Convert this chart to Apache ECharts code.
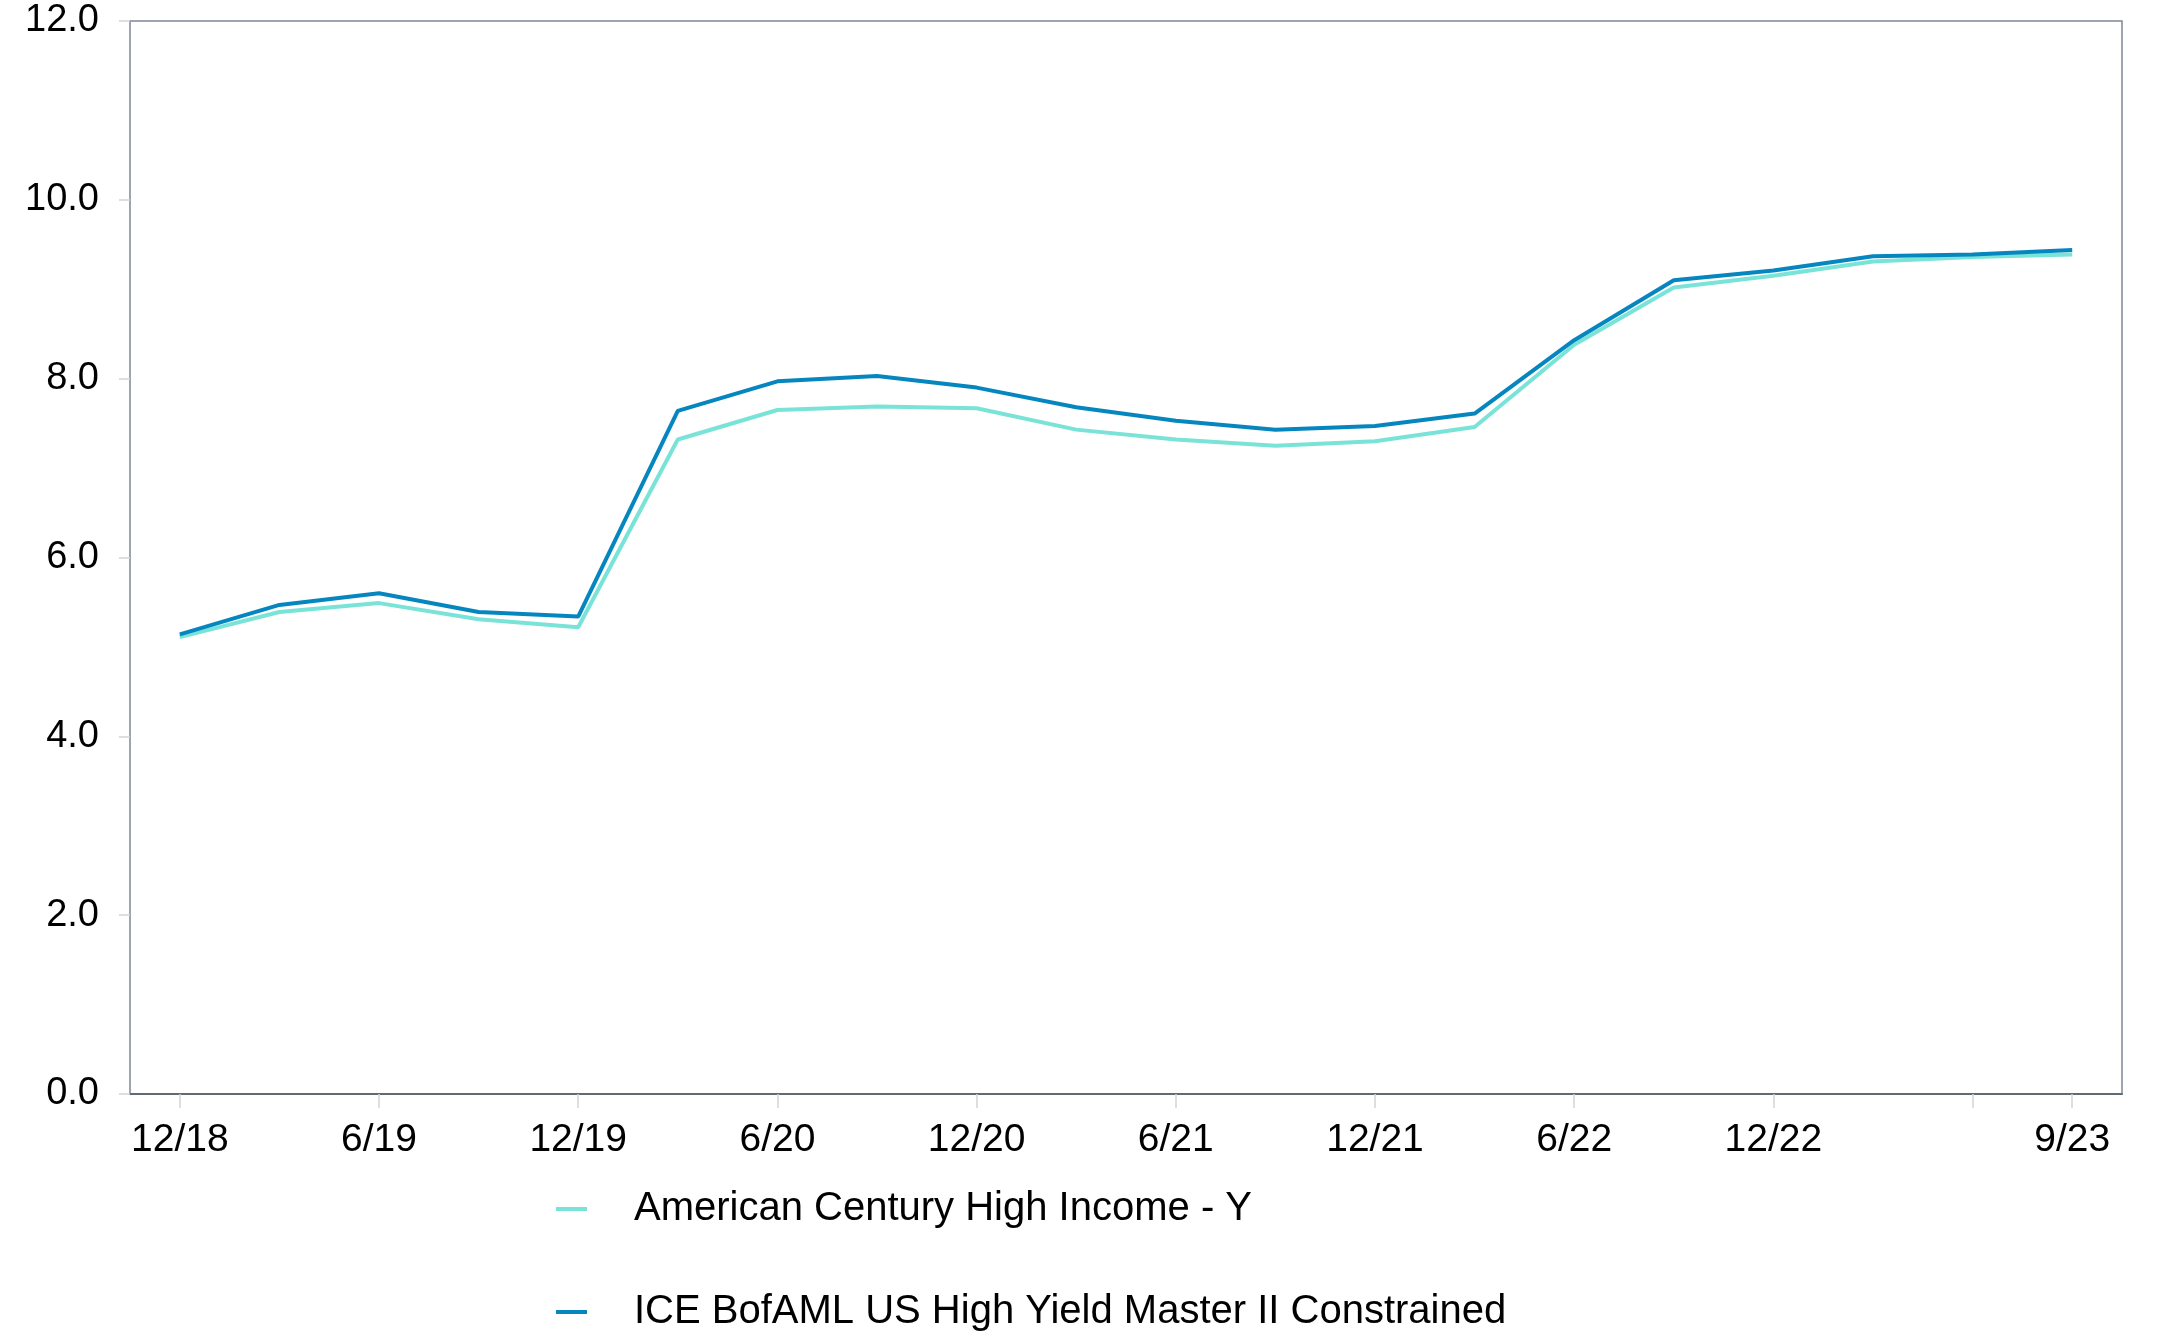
<!DOCTYPE html>
<html>
<head>
<meta charset="utf-8">
<script src="https://cdn.jsdelivr.net/npm/echarts@6/dist/echarts.min.js"></script>
<style>
html,body{margin:0;padding:0;background:#fff;}
#chart{width:2179px;height:1335px;}
</style>
</head>
<body>
<div id="chart"></div>
<script>
const categories = ['12/18','3/19','6/19','9/19','12/19','3/20','6/20','9/20','12/20','3/21','6/21','9/21','12/21','3/22','6/22','9/22','12/22','3/23','6/23','9/23'];
const americanCentury = [5.11,5.39,5.49,5.31,5.22,7.32,7.65,7.69,7.67,7.43,7.32,7.25,7.30,7.46,8.38,9.02,9.15,9.31,9.36,9.39];
const iceBofAML = [5.14,5.47,5.60,5.39,5.34,7.64,7.97,8.03,7.90,7.68,7.53,7.43,7.47,7.61,8.43,9.10,9.21,9.37,9.39,9.44];
const seriesNames = ['American Century High Income - Y','ICE BofAML US High Yield Master II Constrained'];
const yTicks = {min:0, max:12, interval:2};

const labelIdx = (i) => (i % 2 === 0 && i <= 16) || i === categories.length - 1;
const tickIdx = (i) => i % 2 === 0 || i === categories.length - 1;

const chart = echarts.init(document.getElementById('chart'));
chart.setOption({
  animation:false,
  backgroundColor:'#ffffff',
  textStyle:{fontFamily:'Liberation Sans, Arial, sans-serif'},
  grid:{left:130,top:21,right:57,bottom:241,show:true,borderColor:'#7d8996',borderWidth:1.5,backgroundColor:'transparent'},
  xAxis:{
    type:'category',
    data:categories,
    boundaryGap:true,
    axisLine:{show:true,lineStyle:{color:'#5f6b77',width:2}},
    axisTick:{show:true,alignWithLabel:true,interval:(i)=>tickIdx(i),length:14,lineStyle:{color:'#d4d4d4',width:1.5}},
    axisLabel:{interval:(i)=>labelIdx(i),margin:27,fontSize:39,color:'#000',fontFamily:'Liberation Sans, Arial, sans-serif'},
    splitLine:{show:false}
  },
  yAxis:{
    type:'value',
    min:yTicks.min,max:yTicks.max,interval:yTicks.interval,
    axisLine:{show:false},
    axisTick:{show:true,length:11,lineStyle:{color:'#d4d4d4',width:1.5}},
    axisLabel:{margin:31,fontSize:38,color:'#000',formatter:(v)=>v.toFixed(1),fontFamily:'Liberation Sans, Arial, sans-serif'},
    splitLine:{show:false}
  },
  legend:{
    orient:'vertical',
    left:556,
    top:1189,
    padding:0,
    itemGap:63,
    itemWidth:31,
    itemHeight:4,
    icon:'rect',
    textStyle:{fontSize:40,lineHeight:40,color:'#000',padding:[0,0,0,42],fontFamily:'Liberation Sans, Arial, sans-serif'},
    data:seriesNames
  },
  series:[
    {name:seriesNames[0],type:'line',data:americanCentury,symbol:'none',color:'#7ae3d8',lineStyle:{color:'#7ae3d8',width:4}},
    {name:seriesNames[1],type:'line',data:iceBofAML,symbol:'none',color:'#0686bf',lineStyle:{color:'#0686bf',width:4}}
  ]
});
</script>
</body>
</html>
